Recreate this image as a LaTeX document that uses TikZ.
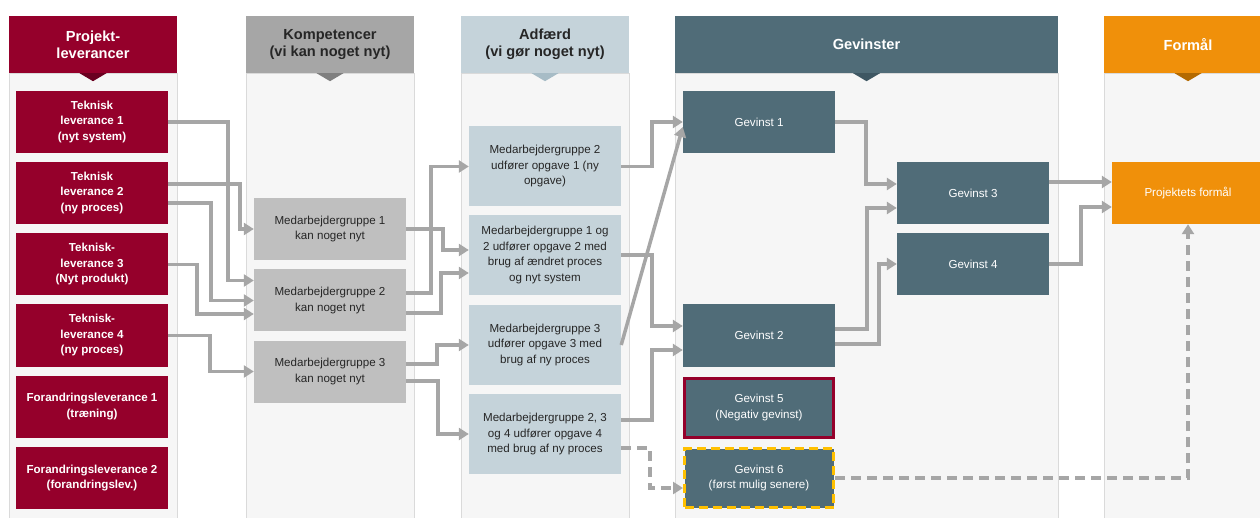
\documentclass[tikz,border=0pt]{standalone}
\usepackage{fontspec}
\setmainfont{Liberation Sans}
\usetikzlibrary{arrows.meta,positioning}

\definecolor{levred}{HTML}{95002B}
\definecolor{levdark}{HTML}{6A0020}
\definecolor{kompgray}{HTML}{A6A6A6}
\definecolor{kompdark}{HTML}{7F7F7F}
\definecolor{kompbox}{HTML}{BFBFBF}
\definecolor{adfblue}{HTML}{C5D3DA}
\definecolor{adfdark}{HTML}{A7BCC6}
\definecolor{gevslate}{HTML}{506C78}
\definecolor{gevdark}{HTML}{3E5763}
\definecolor{formorange}{HTML}{F0900A}
\definecolor{formdark}{HTML}{B46A00}
\definecolor{bodygray}{HTML}{F6F6F6}
\definecolor{bodyline}{HTML}{DADADA}
\definecolor{linegray}{HTML}{A6A6A6}
\definecolor{textdark}{HTML}{262626}
\definecolor{lateryellow}{HTML}{FFC000}

\begin{document}
\begin{tikzpicture}[x=1pt,y=-1pt,
  colhead/.style={minimum width=168pt,minimum height=57pt,inner sep=0pt,align=center,
    font=\fontsize{14.6}{17}\selectfont\bfseries},
  colbody/.style={fill=bodygray,draw=bodyline,line width=0.8pt},
  levbox/.style={fill=levred,text=white,minimum width=152pt,minimum height=62pt,inner sep=2pt,
    align=center,font=\fontsize{11.6}{15.5}\selectfont\bfseries},
  kompbox/.style={fill=kompbox,text=textdark,minimum width=152pt,minimum height=62pt,inner sep=2pt,
    align=center,font=\fontsize{11.6}{15.5}\selectfont},
  adfbox/.style={fill=adfblue,text=textdark,minimum width=152pt,minimum height=80pt,inner sep=2pt,
    align=center,font=\fontsize{11.6}{15.5}\selectfont},
  gevbox/.style={fill=gevslate,text=white,minimum width=152pt,minimum height=62pt,inner sep=2pt,
    align=center,font=\fontsize{11.6}{15.5}\selectfont},
  conn/.style={draw=linegray,line width=3.5pt,-{Triangle[length=10pt,width=12pt]}},
  dashconn/.style={conn,dash pattern=on 10pt off 6pt}
]
\useasboundingbox (0,0) rectangle (1260,518);
\clip (0,0) rectangle (1260,518);

% column backgrounds
\draw[colbody] (9,73) rectangle (177,530);
\draw[colbody] (246,73) rectangle (414,530);
\draw[colbody] (461,73) rectangle (629,530);
\draw[colbody] (675,73) rectangle (1058,530);
\draw[colbody] (1104,73) rectangle (1272,530);

%% column headers
\node[colhead,fill=levred,text=white] (hlev) at (93,44.5) {Projekt-\\leverancer};
\node[colhead,fill=kompgray,text=textdark] (hkomp) at (330,44.5) {Kompetencer\\(vi kan noget nyt)};
\node[colhead,fill=adfblue,text=textdark] (hadf) at (545,44.5) {Adfærd\\(vi gør noget nyt)};
\node[colhead,fill=gevslate,text=white,minimum width=383pt] (hgev) at (866.5,44.5) {Gevinster};
\node[colhead,fill=formorange,text=white] (hform) at (1188,44.5) {Formål};
% the little pointers under the headers
\fill[levdark] (hlev.south) ++(-13.5,0) -- ++(27,0) -- ++(-13.5,8) -- cycle;
\fill[kompdark] (hkomp.south) ++(-13.5,0) -- ++(27,0) -- ++(-13.5,8) -- cycle;
\fill[adfdark] (hadf.south) ++(-13.5,0) -- ++(27,0) -- ++(-13.5,8) -- cycle;
\fill[gevdark] (hgev.south) ++(-13.5,0) -- ++(27,0) -- ++(-13.5,8) -- cycle;
\fill[formdark] (hform.south) ++(-13.5,0) -- ++(27,0) -- ++(-13.5,8) -- cycle;

%% project deliveries
\node[levbox] (lev1) at (92,122) {Teknisk\\leverance 1\\(nyt system)};
\node[levbox] (lev2) at (92,193) {Teknisk\\leverance 2\\(ny proces)};
\node[levbox] (lev3) at (92,264.5) {Teknisk-\\leverance 3\\(Nyt produkt)};
\node[levbox] (lev4) at (92,335.5) {Teknisk-\\leverance 4\\(ny proces)};
\node[levbox] (lev5) at (92,406.5) {Forandringsleverance 1\\(træning)};
\node[levbox] (lev6) at (92,478) {Forandringsleverance 2\\(forandringslev.)};

%% competences
\node[kompbox] (komp1) at (330,229) {Medarbejdergruppe 1\\kan noget nyt};
\node[kompbox] (komp2) at (330,300.5) {Medarbejdergruppe 2\\kan noget nyt};
\node[kompbox] (komp3) at (330,371.5) {Medarbejdergruppe 3\\kan noget nyt};

%% behaviour
\node[adfbox] (adf1) at (545,166.5) {Medarbejdergruppe 2\\udfører opgave 1 (ny\\opgave)};
\node[adfbox] (adf2) at (545,255) {Medarbejdergruppe 1 og\\2 udfører opgave 2 med\\brug af ændret proces\\og nyt system};
\node[adfbox] (adf3) at (545,345) {Medarbejdergruppe 3\\udfører opgave 3 med\\brug af ny proces};
\node[adfbox] (adf4) at (545,434) {Medarbejdergruppe 2, 3\\og 4 udfører opgave 4\\med brug af ny proces};

%% benefits
\node[gevbox] (gev1) at (759,122) {Gevinst 1};
\node[gevbox] (gev2) at (759,335.5) {Gevinst 2};
\node[gevbox] (gev3) at (973,193) {Gevinst 3};
\node[gevbox] (gev4) at (973,264) {Gevinst 4};
\node[gevbox,draw=levred,line width=3pt,minimum width=149pt,minimum height=59pt] (gev5) at (759,407.5) {Gevinst 5\\(Negativ gevinst)};
\node[gevbox,draw=lateryellow,line width=3pt,dash pattern=on 9pt off 5pt,minimum width=149pt,minimum height=59pt] (gev6) at (759,478) {Gevinst 6\\(først mulig senere)};

%% purpose
\node[gevbox,fill=formorange] (formaal) at (1188,193) {Projektets formål};

% deliveries -> competences
\draw[conn] (lev1.east) -- ++(60,0) |- ([yshift=20pt]komp2.west);
\draw[conn] ([yshift=9pt]lev2.east) -- ++(72,0) |- (komp1.west);
\draw[conn] ([yshift=-10pt]lev2.east) -- ++(43,0) |- (komp2.west);
\draw[conn] (lev3.east) -- ++(29,0) |- ([yshift=-13.5pt]komp2.west);
\draw[conn] (lev4.east) -- ++(42,0) |- (komp3.west);
% competences -> behaviour
\draw[conn] (komp1.east) -- ++(37,0) |- ([yshift=5pt]adf2.west);
\draw[conn] ([yshift=7.5pt]komp2.east) -- ++(25,0) |- (adf1.west);
\draw[conn] ([yshift=-12.5pt]komp2.east) -- ++(35,0) |- ([yshift=-18pt]adf2.west);
\draw[conn] ([yshift=7.5pt]komp3.east) -- ++(31,0) |- (adf3.west);
\draw[conn] ([yshift=-9.5pt]komp3.east) -- ++(32,0) |- (adf4.west);
% behaviour -> benefits
\draw[conn] (adf1.east) -- ++(31,0) |- (gev1.west);
\draw[conn] (adf3.east) -- ([yshift=-5pt]gev1.west);
\draw[conn] (adf2.east) -- ++(31,0) |- ([yshift=9.5pt]gev2.west);
\draw[conn] ([yshift=14pt]adf4.east) -- ++(31,0) |- ([yshift=-14.5pt]gev2.west);
\draw[dashconn] ([yshift=-14pt]adf4.east) -- ++(29,0) |- ([yshift=-10pt]gev6.west);
% benefits -> benefits -> purpose
\draw[conn] (gev1.east) -- ++(31,0) |- ([yshift=9pt]gev3.west);
\draw[conn] ([yshift=6.5pt]gev2.east) -- ++(32,0) |- ([yshift=-15pt]gev3.west);
\draw[conn] ([yshift=-8.5pt]gev2.east) -- ++(44,0) |- (gev4.west);
\draw[conn] ([yshift=11pt]gev3.east) -- ([yshift=11pt]formaal.west);
\draw[conn] (gev4.east) -- ++(32,0) |- ([yshift=-14pt]formaal.west);
\draw[dashconn] (gev6.east) -| (formaal.south);
\end{tikzpicture}
\end{document}
